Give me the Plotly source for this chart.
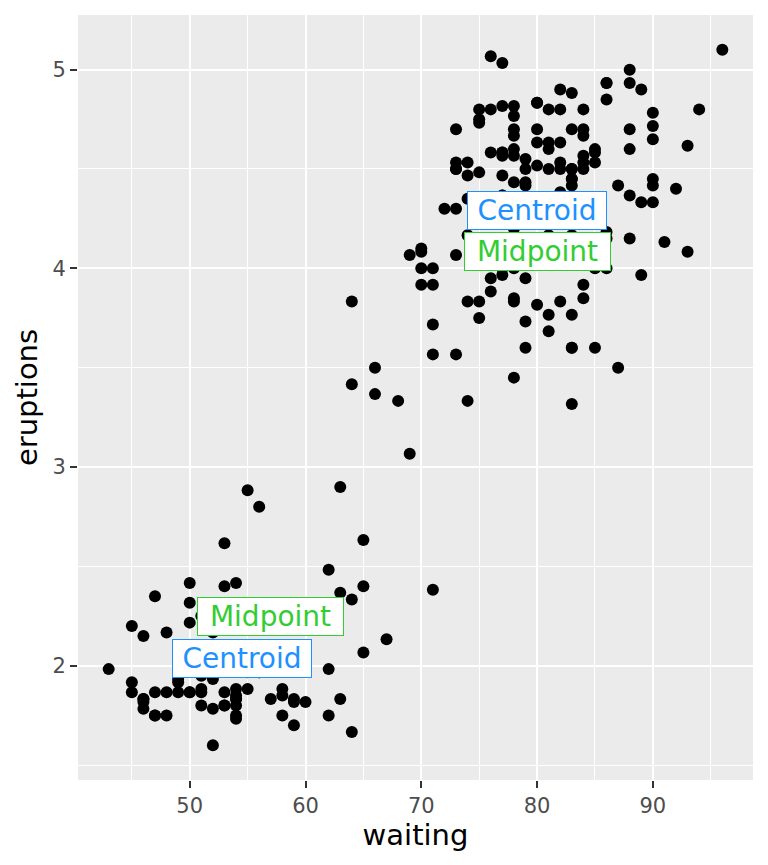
import plotly.graph_objects as go

waiting = [79,54,74,62,85,55,88,85,51,85,54,84,78,47,83,52,62,84,52,79,51,47,78,69,74,83,55,76,78,79,
73,77,66,80,74,52,48,80,59,90,80,58,84,58,73,83,64,53,82,59,75,90,54,80,54,83,71,64,77,81,
59,84,48,82,60,92,78,78,65,73,82,56,79,71,62,76,60,78,76,83,75,82,70,65,73,88,76,80,48,86,
60,90,50,78,63,72,84,75,51,82,62,88,49,83,81,47,84,52,86,81,75,59,89,79,59,81,50,85,59,87,
53,69,77,56,88,81,45,82,55,90,45,83,56,89,46,82,51,86,53,79,81,60,82,77,76,59,80,49,96,53,
77,77,65,81,71,70,81,93,53,89,45,86,58,78,66,76,63,88,52,93,49,57,77,68,81,81,73,50,85,74,
55,77,83,83,51,78,84,46,83,55,81,57,76,84,77,81,87,77,51,78,60,82,91,53,78,46,77,84,49,83,
71,80,49,75,64,76,53,94,55,76,50,82,54,75,78,79,78,78,70,79,70,54,86,50,90,54,54,77,79,64,
75,47,86,63,85,82,57,82,67,74,54,83,73,73,88,80,71,83,56,79,78,84,58,83,43,60,75,81,46,90,
46,74]

eruptions = [3.600,1.800,3.333,2.283,4.533,2.883,4.700,3.600,1.950,4.350,1.833,3.917,4.200,1.750,4.700,
2.167,1.750,4.800,1.600,4.250,1.800,1.750,3.450,3.067,4.533,3.600,1.967,4.083,3.850,4.433,
4.300,4.467,3.367,4.033,3.833,2.017,1.867,4.833,1.833,4.783,4.350,1.883,4.567,1.750,4.533,
3.317,3.833,2.100,4.633,2.000,4.800,4.716,1.833,4.833,1.733,4.883,3.717,1.667,4.567,4.317,
2.233,4.500,1.750,4.800,1.817,4.400,4.167,4.700,2.067,4.700,4.033,1.967,4.500,4.000,1.983,
5.067,2.017,4.567,3.883,3.600,4.133,4.333,4.100,2.633,4.067,4.933,3.950,4.517,2.167,4.000,
2.200,4.333,1.867,4.817,1.833,4.300,4.667,3.750,1.867,4.900,2.483,4.367,2.100,4.500,4.050,
1.867,4.700,1.783,4.850,3.683,4.733,2.300,4.900,4.417,1.700,4.633,2.317,4.600,1.817,4.417,
2.617,4.067,4.250,1.967,4.600,3.767,1.917,4.500,2.267,4.650,1.867,4.167,2.800,4.333,1.833,
4.383,1.883,4.933,2.033,3.733,4.233,2.233,4.533,4.817,4.333,1.983,4.633,2.017,5.100,1.800,
5.033,4.000,2.400,4.600,3.567,4.000,4.500,4.083,1.800,3.967,2.200,4.150,2.000,3.833,3.500,
4.583,2.367,5.000,1.933,4.617,1.917,2.083,4.583,3.333,4.167,4.333,4.500,2.417,4.000,4.167,
1.883,4.583,4.250,3.767,2.033,4.433,4.083,1.833,4.417,2.183,4.800,1.833,4.800,4.100,3.966,
4.233,3.500,4.366,2.250,4.667,2.100,4.350,4.133,1.867,4.600,1.783,4.367,3.850,1.933,4.500,
2.383,4.700,1.867,3.833,3.417,4.233,2.400,4.800,2.000,4.150,1.867,4.267,1.750,4.483,4.000,
4.117,4.083,4.267,3.917,4.550,4.083,2.417,4.183,2.217,4.450,1.883,1.850,4.283,3.950,2.333,
4.150,2.350,4.933,2.900,4.583,3.833,2.083,4.367,2.133,4.350,2.200,4.450,3.567,4.500,4.150,
3.817,3.917,4.450,2.000,4.283,4.767,4.533,1.850,4.250,1.983,2.250,4.750,4.117,2.150,4.417,
1.817,4.467]

x_ticks = [50, 60, 70, 80, 90]
y_ticks = [2, 3, 4, 5]
label_texts = ["Centroid", "Midpoint"]
label_colors = ["#1E90FF", "#32CD32"]
label_box_w = [136, 143]

FONT = "DejaVu Sans"

fig = go.Figure()
fig.add_trace(go.Scatter(x=waiting, y=eruptions, mode="markers",
                         marker=dict(color="black", size=12), showlegend=False, hoverinfo="skip"))

# clusters: short vs long eruptions
groups = [[(w, e) for w, e in zip(waiting, eruptions) if e < 3],
          [(w, e) for w, e in zip(waiting, eruptions) if e >= 3]]
for g in groups:
    ws = [p[0] for p in g]
    es = [p[1] for p in g]
    centroid = (sum(ws) / len(ws), sum(es) / len(es))
    midpoint = ((min(ws) + max(ws)) / 2, (min(es) + max(es)) / 2)
    for (px, py), txt, col, bw in zip([centroid, midpoint], label_texts, label_colors, label_box_w):
        fig.add_annotation(x=px, y=py, text=txt, showarrow=False,
                           font=dict(family=FONT, size=28, color=col),
                           width=bw, height=35,
                           bgcolor="white", bordercolor=col, borderwidth=1, borderpad=1)

def rng(vals):
    lo, hi = min(vals), max(vals)
    d = (hi - lo) * 0.05
    return [lo - d, hi + d]

xr = rng(waiting)
yr = rng(eruptions)

axis_common = dict(showline=False, zeroline=False, gridcolor="white", gridwidth=2.2,
                   ticks="outside", ticklen=7, tickwidth=2.2, tickcolor="#333333",
                   automargin=False,
                   tickfont=dict(family=FONT, size=21, color="#4D4D4D"),
                   minor=dict(showgrid=True, gridcolor="white", gridwidth=1.1, ticks=""))

fig.update_xaxes(range=xr, tickvals=x_ticks, minor_tickvals=[45, 55, 65, 75, 85, 95],
                 title=dict(text="waiting", font=dict(family=FONT, size=29, color="black"), standoff=2),
                 **axis_common)
fig.update_yaxes(range=yr, tickvals=y_ticks, minor_tickvals=[1.5, 2.5, 3.5, 4.5],
                 title=dict(text="eruptions", font=dict(family=FONT, size=29, color="black"), standoff=6),
                 **axis_common)

fig.update_layout(width=768, height=865, plot_bgcolor="#EBEBEB", paper_bgcolor="white",
                  margin=dict(l=78, r=15, t=15, b=85), showlegend=False)

fig.write_html("out.html", config={"displayModeBar": False},
               post_script="document.body.style.margin='0';document.body.style.padding='0';")
